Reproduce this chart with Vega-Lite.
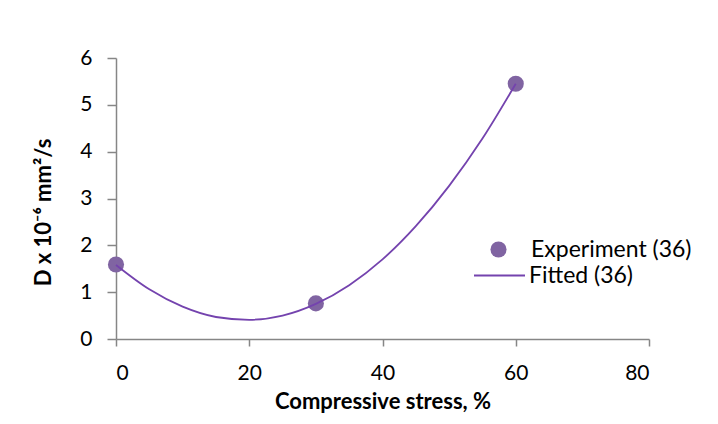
{
  "$schema": "https://vega.github.io/schema/vega-lite/v6.json",
  "width": 533,
  "height": 281,
  "autosize": {"type": "none"},
  "padding": {"left": 116, "top": 58, "right": 69, "bottom": 85},
  "background": "white",
  "config": {
    "view": {"stroke": null},
    "font": "Lato",
    "axis": {
      "domainColor": "#868686",
      "domainWidth": 1.5,
      "tickColor": "#868686",
      "tickWidth": 1.5,
      "grid": false,
      "labelFontSize": 21,
      "labelColor": "#000000",
      "titleFontSize": 22,
      "titleFontWeight": "bold",
      "titleColor": "#000000",
      "labelFont": "Lato",
      "titleFont": "Lato"
    }
  },
  "datasets": {
    "exp": [
      {"stress": 0, "D": 1.59, "series": "Experiment (36)"},
      {"stress": 30, "D": 0.76, "series": "Experiment (36)"},
      {"stress": 60, "D": 5.45, "series": "Experiment (36)"}
    ],
    "fit": [
      {"stress": 0, "D": 1.58, "series": "Fitted (36)"},
      {"stress": 5, "D": 1.06, "series": "Fitted (36)"},
      {"stress": 10, "D": 0.69, "series": "Fitted (36)"},
      {"stress": 15, "D": 0.47, "series": "Fitted (36)"},
      {"stress": 20, "D": 0.41, "series": "Fitted (36)"},
      {"stress": 25, "D": 0.5, "series": "Fitted (36)"},
      {"stress": 30, "D": 0.75, "series": "Fitted (36)"},
      {"stress": 35, "D": 1.15, "series": "Fitted (36)"},
      {"stress": 40, "D": 1.7, "series": "Fitted (36)"},
      {"stress": 45, "D": 2.41, "series": "Fitted (36)"},
      {"stress": 50, "D": 3.27, "series": "Fitted (36)"},
      {"stress": 55, "D": 4.28, "series": "Fitted (36)"},
      {"stress": 60, "D": 5.45, "series": "Fitted (36)"}
    ]
  },
  "encoding": {
    "x": {
      "field": "stress",
      "type": "quantitative",
      "scale": {"domain": [0, 80], "nice": false, "zero": false},
      "axis": {
        "values": [0, 20, 40, 60, 80],
        "tickSize": 7,
        "labelPadding": 16,
        "title": "Compressive stress, %",
        "titlePadding": 8
      }
    },
    "y": {
      "field": "D",
      "type": "quantitative",
      "scale": {"domain": [0, 6], "nice": false},
      "axis": {
        "values": [0, 1, 2, 3, 4, 5, 6],
        "tickSize": 9,
        "labelPadding": 15,
        "title": "D x 10⁻⁶ mm²/s",
        "titlePadding": 24,
        "titleY": 154
      }
    }
  },
  "layer": [
    {
      "data": {"name": "exp"},
      "mark": {"type": "point", "filled": true, "size": 260, "color": "#8064A2", "opacity": 1},
      "encoding": {
        "shape": {
          "field": "series",
          "type": "nominal",
          "title": null,
          "scale": {"range": ["circle"]},
          "legend": {
            "orient": "none",
            "legendX": 371,
            "legendY": 180,
            "padding": 0,
            "symbolSize": 260,
            "symbolFillColor": "#8064A2",
            "symbolStrokeColor": "#8064A2",
            "symbolOpacity": 1,
            "labelOffset": 21,
            "labelLimit": 0,
            "labelFontSize": 23,
            "labelColor": "#000000",
            "labelFont": "Lato"
          }
        }
      }
    },
    {
      "data": {"name": "fit"},
      "mark": {"type": "line", "interpolate": "monotone", "strokeWidth": 1.8},
      "encoding": {
        "color": {
          "field": "series",
          "type": "nominal",
          "title": null,
          "scale": {"range": ["#7443AE"]},
          "legend": {
            "orient": "none",
            "legendX": 357,
            "legendY": 191,
            "padding": 0,
            "symbolType": "stroke",
            "symbolSize": 2601,
            "symbolStrokeWidth": 1.8,
            "labelOffset": 3,
            "labelLimit": 0,
            "labelFontSize": 23,
            "labelColor": "#000000",
            "labelFont": "Lato"
          }
        }
      }
    }
  ]
}
